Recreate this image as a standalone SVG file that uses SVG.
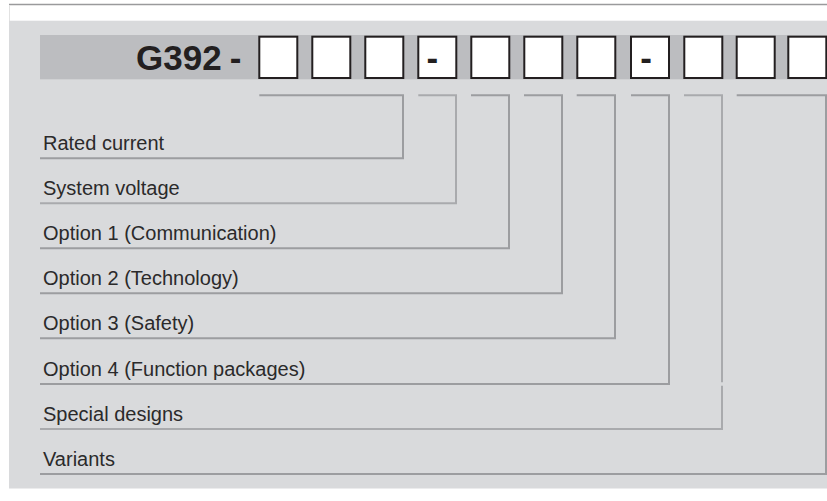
<svg xmlns="http://www.w3.org/2000/svg" width="827" height="501" viewBox="0 0 827 501">
<style>
.box{fill:#fff;stroke:#231f20;stroke-width:2}
.lbl{font-family:"Liberation Sans",Arial,sans-serif;font-size:20px;fill:#2b2a2b}
.code{font-family:"Liberation Sans",Arial,sans-serif;font-size:35px;font-weight:bold;fill:#231f20}
.ln{fill:none;stroke:#9c9da0;stroke-width:2}
.ln2{fill:none;stroke:#a9aaad;stroke-width:2}
</style>
<rect x="0" y="0" width="827" height="501" fill="#fff"/>
<line x1="9" y1="4.5" x2="827" y2="4.5" stroke="#9a9a9c" stroke-width="1.5"/>
<line x1="9.5" y1="5" x2="9.5" y2="21" stroke="#e2e2e2" stroke-width="1"/>
<rect x="9" y="20.7" width="818" height="467.8" fill="#d9dadc"/>
<rect x="40" y="35" width="787" height="44.3" fill="#bcbdc0"/>

<g id="code">
<text class="code" x="136" y="70">G392<tspan dx="8">-</tspan></text>
</g>
<g id="boxes">
<rect class="box" x="259.3" y="36.7" width="38" height="41.3"/>
<rect class="box" x="312.3" y="36.7" width="38" height="41.3"/>
<rect class="box" x="365.3" y="36.7" width="38" height="41.3"/>
<rect class="box" x="418.3" y="36.7" width="38" height="41.3"/>
<rect class="box" x="471.3" y="36.7" width="38" height="41.3"/>
<rect class="box" x="524.3" y="36.7" width="38" height="41.3"/>
<rect class="box" x="577.3" y="36.7" width="38" height="41.3"/>
<rect class="box" x="631" y="36.7" width="38" height="41.3"/>
<rect class="box" x="684.3" y="36.7" width="38" height="41.3"/>
<rect class="box" x="736.7" y="36.7" width="38" height="41.3"/>
<rect class="box" x="788.3" y="36.7" width="38" height="41.3"/>
<text class="code" x="426.6" y="70">-</text>
<text class="code" x="640.3" y="70">-</text>
</g>

<g id="connectors">
<path class="ln" d="M259.3 95.3H403V158.3H40"/>
<path class="ln2" d="M418.3 95.3H456V203.3H40"/>
<path class="ln" d="M471 95.3H509V248.3H40"/>
<path class="ln" d="M524 95.3H562V293.3H40"/>
<path class="ln" d="M576.7 95.3H615V338.3H40"/>
<path class="ln" d="M631 95.3H669V384H40"/>
<path class="ln2" d="M684 95.3H722V382.3M722 385.7V429H40"/>
<path class="ln" d="M736.7 95.3H826V474H40"/>
</g>

<g id="rated-current"><text class="lbl" x="43" y="150">Rated current</text></g>
<g id="system-voltage"><text class="lbl" x="43" y="195">System voltage</text></g>
<g id="option-1"><text class="lbl" x="43" y="240">Option 1 (Communication)</text></g>
<g id="option-2"><text class="lbl" x="43" y="285">Option 2 (Technology)</text></g>
<g id="option-3"><text class="lbl" x="43" y="330">Option 3 (Safety)</text></g>
<g id="option-4"><text class="lbl" x="43" y="376">Option 4 (Function packages)</text></g>
<g id="special-designs"><text class="lbl" x="43" y="421">Special designs</text></g>
<g id="variants"><text class="lbl" x="43" y="466">Variants</text></g>
</svg>
